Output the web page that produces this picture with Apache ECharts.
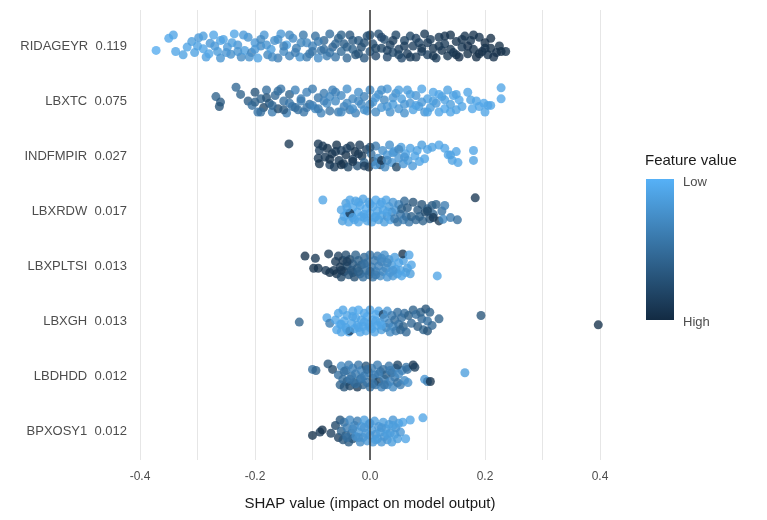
<!DOCTYPE html>
<html>
<head>
<meta charset="utf-8">
<script src="https://cdn.jsdelivr.net/npm/echarts@6.0.0/dist/echarts.min.js"></script>
<style>
  html, body { margin: 0; padding: 0; background: #fff; }
  #main { width: 767px; height: 520px; }
</style>
</head>
<body>
<div id="main"></div>
<script>
  // 特征名和平均|SHAP|，从上到下
  var features = ['RIDAGEYR', 'LBXTC', 'INDFMPIR', 'LBXRDW', 'LBXPLTSI', 'LBXGH', 'LBDHDD', 'BPXOSY1'];
  var meanAbs = ['0.119', '0.075', '0.027', '0.017', '0.013', '0.013', '0.012', '0.012'];
  var xTicks = [-0.4, -0.2, 0.0, 0.2, 0.4];

  // 每个点: [SHAP值, 特征值(0=低 1=高), 纵向抖动]
  var ridageyr = [
    [-0.372,0.05,0.08],[-0.35,0.08,-0.14],[-0.342,0.1,-0.2],[-0.338,0.1,0.1],[-0.325,0.12,0.16],[-0.318,0.1,0.02],
    [-0.31,0.15,-0.08],[-0.305,0.12,0.12],[-0.298,0.18,-0.15],[-0.29,0.1,0.05],[-0.285,0.14,0.2],[-0.278,0.2,-0.05],
    [-0.272,0.1,-0.2],[-0.265,0.16,0.1],[-0.26,0.22,0.22],[-0.255,0.12,-0.12],[-0.248,0.18,0.02],[-0.242,0.25,0.15],
    [-0.236,0.1,-0.22],[-0.23,0.2,-0.02],[-0.224,0.3,0.2],[-0.218,0.15,0.08],[-0.212,0.22,-0.16],[-0.206,0.35,0.12],
    [-0.2,0.18,-0.06],[-0.195,0.12,0.22],[-0.19,0.28,0.0],[-0.184,0.2,-0.2],[-0.178,0.32,0.16],[-0.172,0.15,0.06],
    [-0.166,0.25,-0.1],[-0.16,0.38,0.22],[-0.155,0.2,-0.22],[-0.15,0.3,0.1],[-0.145,0.12,-0.02],[-0.14,0.35,0.18],
    [-0.134,0.28,-0.14],[-0.128,0.4,0.04],[-0.122,0.22,0.2],[-0.116,0.42,-0.2],[-0.11,0.3,-0.06],[-0.105,0.45,0.14],
    [-0.1,0.35,0.0],[-0.095,0.5,-0.18],[-0.09,0.28,0.22],[-0.085,0.45,0.08],[-0.08,0.55,-0.1],[-0.075,0.4,0.18],
    [-0.07,0.5,-0.22],[-0.065,0.58,0.02],[-0.06,0.45,0.2],[-0.055,0.6,-0.14],[-0.05,0.52,0.1],[-0.045,0.62,-0.04],
    [-0.04,0.55,0.22],[-0.035,0.68,-0.2],[-0.03,0.6,0.06],[-0.025,0.7,0.16],[-0.02,0.65,-0.1],[-0.015,0.72,0.02],
    [-0.01,0.68,0.22],[-0.005,0.75,-0.18],[0.0,0.7,0.1],[0.005,0.74,-0.04],[0.01,0.78,0.18],[0.015,0.72,-0.22],
    [0.02,0.8,0.04],[0.025,0.75,-0.12],[0.03,0.78,0.2],[0.035,0.82,-0.02],[0.04,0.76,0.12],[0.045,0.8,-0.2],
    [0.05,0.84,0.06],[0.055,0.78,0.22],[0.06,0.82,-0.1],[0.065,0.86,0.14],[0.07,0.8,-0.18],[0.075,0.85,0.0],
    [0.08,0.88,0.2],[0.085,0.82,-0.06],[0.09,0.86,0.1],[0.095,0.9,-0.22],[0.1,0.84,0.16],[0.105,0.88,-0.12],
    [0.11,0.92,0.04],[0.115,0.86,0.22],[0.12,0.9,-0.16],[0.125,0.94,0.08],[0.13,0.88,-0.04],[0.135,0.92,0.18],
    [0.14,0.95,-0.2],[0.145,0.9,0.12],[0.15,0.93,-0.08],[0.155,0.96,0.2],[0.16,0.9,0.02],[0.165,0.94,-0.18],
    [0.17,0.97,0.14],[0.175,0.92,-0.1],[0.18,0.95,0.06],[0.185,0.98,0.2],[0.19,0.93,-0.16],[0.195,0.96,0.1],
    [0.2,0.98,-0.06],[0.205,0.94,0.16],[0.21,0.97,0.04],[0.22,0.96,0.12],[0.228,0.98,0.1],[0.236,0.95,0.1],
    [-0.3,0.12,0.0],[-0.29,0.15,-0.18],[-0.28,0.1,0.14],[-0.27,0.18,0.0],[-0.26,0.12,-0.1],[-0.25,0.2,0.12],
    [-0.24,0.15,-0.06],[-0.23,0.22,0.1],[-0.22,0.18,-0.2],[-0.21,0.25,0.2],[-0.2,0.2,0.06],[-0.19,0.3,-0.12],
    [-0.18,0.22,-0.02],[-0.17,0.3,0.2],[-0.16,0.25,-0.12],[-0.15,0.35,0.0],[-0.14,0.3,-0.2],[-0.13,0.38,0.12],
    [-0.12,0.32,-0.06],[-0.11,0.4,0.2],[-0.1,0.45,0.1],[-0.09,0.4,-0.08],[-0.08,0.5,0.06],[-0.07,0.45,0.12],
    [-0.06,0.55,-0.04],[-0.05,0.6,-0.2],[-0.04,0.6,0.02],[-0.03,0.65,-0.1],[-0.02,0.7,0.14],[-0.01,0.72,-0.06],
    [0.0,0.75,-0.2],[0.01,0.8,0.04],[0.02,0.78,-0.16],[0.03,0.82,0.08],[0.04,0.85,-0.1],[0.05,0.8,0.16],
    [0.06,0.86,0.0],[0.07,0.88,0.2],[0.08,0.84,-0.14],[0.09,0.9,0.04],[0.1,0.88,-0.06],[0.11,0.92,0.18],
    [0.12,0.9,0.0],[0.13,0.94,-0.18],[0.14,0.92,0.06],[0.15,0.95,0.16],[0.16,0.93,-0.12],[0.17,0.96,0.0],
    [0.18,0.94,-0.2],[0.19,0.97,0.14],[0.2,0.95,0.04],[0.21,0.98,-0.14],[0.215,0.96,0.2],[0.225,0.97,0.0]
  ];
  var lbxtc = [
    [-0.268,0.6,-0.08],[-0.26,0.65,0.02],[-0.262,0.7,0.1],[-0.233,0.55,-0.25],[-0.225,0.6,-0.12],[-0.212,0.65,0.0],
    [-0.205,0.5,0.08],[-0.2,0.7,-0.16],[-0.195,0.45,0.2],[-0.19,0.6,-0.04],[-0.185,0.8,0.12],[-0.18,0.5,-0.2],
    [-0.175,0.65,0.04],[-0.17,0.4,0.2],[-0.165,0.55,-0.1],[-0.16,0.75,0.14],[-0.155,0.45,-0.22],[-0.15,0.5,0.0],
    [-0.145,0.4,0.22],[-0.14,0.6,-0.12],[-0.135,0.45,0.1],[-0.13,0.35,-0.2],[-0.125,0.5,0.16],[-0.12,0.4,-0.04],
    [-0.115,0.45,0.2],[-0.11,0.35,-0.16],[-0.105,0.5,0.06],[-0.1,0.4,-0.22],[-0.095,0.3,0.14],[-0.09,0.45,-0.06],
    [-0.085,0.35,0.22],[-0.08,0.4,-0.14],[-0.075,0.3,0.04],[-0.07,0.45,0.18],[-0.065,0.35,-0.2],[-0.06,0.3,0.0],
    [-0.055,0.4,0.2],[-0.05,0.3,-0.1],[-0.045,0.35,0.1],[-0.04,0.25,-0.22],[-0.035,0.4,0.16],[-0.03,0.3,-0.04],
    [-0.025,0.35,0.22],[-0.02,0.25,-0.16],[-0.015,0.3,0.06],[-0.01,0.35,-0.08],[-0.005,0.25,0.18],[0.0,0.3,-0.2],
    [0.005,0.2,0.02],[0.01,0.3,0.2],[0.015,0.25,-0.12],[0.02,0.2,0.12],[0.025,0.3,-0.02],[0.03,0.2,-0.22],
    [0.035,0.25,0.2],[0.04,0.15,0.06],[0.045,0.25,-0.14],[0.05,0.2,0.14],[0.055,0.15,-0.04],[0.06,0.25,0.22],
    [0.065,0.15,-0.2],[0.07,0.2,0.04],[0.075,0.12,0.16],[0.08,0.2,-0.1],[0.085,0.15,0.1],[0.09,0.1,-0.22],
    [0.095,0.2,0.2],[0.1,0.12,-0.04],[0.105,0.15,0.12],[0.11,0.1,-0.16],[0.115,0.18,0.04],[0.12,0.1,0.2],
    [0.125,0.15,-0.08],[0.13,0.08,0.14],[0.135,0.12,-0.2],[0.14,0.15,0.06],[0.145,0.1,-0.1],[0.15,0.12,0.16],
    [0.155,0.08,-0.02],[0.16,0.1,0.1],[0.17,0.1,-0.16],[0.175,0.12,-0.02],[0.178,0.08,0.14],[0.185,0.1,0.0],
    [0.19,0.1,0.1],[0.198,0.08,0.04],[0.205,0.1,0.08],[0.2,0.1,0.2],[0.21,0.1,0.08],[0.228,0.1,-0.24],[0.228,0.08,-0.04],
    [-0.2,0.6,0.02],[-0.19,0.5,0.2],[-0.18,0.7,-0.06],[-0.17,0.55,0.08],[-0.16,0.5,-0.18],[-0.15,0.65,0.16],
    [-0.14,0.45,0.04],[-0.13,0.5,0.12],[-0.12,0.4,0.0],[-0.11,0.45,0.12],[-0.1,0.35,0.08],[-0.09,0.4,0.14],
    [-0.08,0.35,0.0],[-0.07,0.3,-0.08],[-0.06,0.35,-0.16],[-0.05,0.3,0.2],[-0.04,0.3,0.04],[-0.03,0.25,0.14],
    [-0.02,0.3,0.0],[-0.01,0.25,0.16],[0.0,0.3,0.06],[0.01,0.2,-0.06],[0.02,0.25,-0.2],[0.03,0.2,0.1],
    [0.04,0.2,-0.06],[0.05,0.15,-0.2],[0.06,0.2,0.06],[0.07,0.15,-0.12],[0.08,0.12,0.08],[0.09,0.18,0.02],
    [0.1,0.12,0.2],[0.11,0.15,0.0],[0.12,0.1,-0.12],[0.13,0.12,-0.02],[0.14,0.1,0.2],[0.15,0.12,-0.12]
  ];
  var indfmpir = [
    [-0.141,0.9,-0.22],[-0.09,0.9,-0.22],[-0.088,0.85,-0.1],[-0.09,0.9,0.04],[-0.088,0.95,0.14],[-0.082,0.9,-0.18],
    [-0.078,0.9,0.02],[-0.074,0.95,-0.14],[-0.07,0.85,0.16],[-0.066,0.92,-0.04],[-0.062,0.88,0.2],[-0.058,0.95,-0.2],
    [-0.054,0.9,0.08],[-0.05,0.85,-0.1],[-0.046,0.92,0.14],[-0.042,0.95,-0.02],[-0.038,0.8,0.2],[-0.034,0.9,-0.18],
    [-0.03,0.85,0.06],[-0.026,0.95,-0.08],[-0.022,0.7,0.18],[-0.018,0.88,-0.2],[-0.014,0.9,0.0],[-0.01,0.6,0.12],
    [-0.006,0.85,-0.12],[-0.002,0.9,0.2],[0.002,0.5,-0.04],[0.006,0.8,0.1],[0.01,0.4,-0.18],[0.014,0.3,0.04],
    [0.018,0.85,0.16],[0.022,0.25,-0.1],[0.026,0.3,0.2],[0.03,0.2,-0.02],[0.034,0.25,-0.2],[0.038,0.2,0.12],
    [0.042,0.15,-0.08],[0.046,0.8,0.2],[0.05,0.2,0.04],[0.054,0.15,-0.16],[0.058,0.2,0.14],[0.062,0.1,-0.04],
    [0.066,0.15,0.08],[0.07,0.12,-0.14],[0.074,0.18,0.18],[0.078,0.1,0.0],[0.082,0.12,-0.1],[0.086,0.1,0.1],
    [-0.07,0.95,0.06],[-0.06,0.9,-0.08],[-0.05,0.95,0.16],[-0.04,0.85,-0.14],[-0.03,0.92,0.1],[-0.02,0.9,-0.04],
    [-0.01,0.85,0.18],[0.0,0.7,-0.16],[0.01,0.2,0.16],[0.02,0.9,0.08],[0.03,0.3,0.08],[0.04,0.2,-0.06],
    [0.05,0.3,-0.12],[0.06,0.2,0.02],[0.1,0.1,-0.12],[0.108,0.12,-0.16],[0.12,0.1,-0.2],[0.13,0.1,-0.14],
    [0.14,0.15,-0.02],[0.136,0.1,-0.02],[0.15,0.1,-0.08],[0.143,0.12,0.08],[0.153,0.1,0.12],[0.18,0.1,-0.1],
    [0.18,0.12,0.08],[0.095,0.1,0.05],[0.09,0.15,-0.2]
  ];
  var lbxrdw = [
    [-0.082,0.1,-0.2],[-0.05,0.1,-0.02],[-0.048,0.15,0.18],[-0.045,0.1,0.1],[-0.042,0.15,-0.14],[-0.04,0.05,0.04],
    [-0.037,0.1,0.2],[-0.035,0.1,-0.2],[-0.032,0.12,0.08],[-0.03,0.08,-0.06],[-0.027,0.1,0.16],[-0.025,0.12,-0.18],
    [-0.022,0.06,0.02],[-0.02,0.1,0.2],[-0.017,0.1,-0.1],[-0.015,0.08,0.1],[-0.012,0.12,-0.22],[-0.01,0.1,0.06],
    [-0.007,0.06,-0.04],[-0.005,0.1,0.18],[-0.002,0.12,-0.16],[0.0,0.08,0.04],[0.003,0.1,0.2],[0.005,0.1,-0.08],
    [0.008,0.12,0.12],[0.01,0.08,-0.2],[0.013,0.1,0.0],[0.015,0.15,0.16],[0.018,0.1,-0.12],[0.02,0.12,0.08],
    [0.023,0.1,-0.02],[0.025,0.15,0.2],[0.028,0.1,-0.2],[0.03,0.2,0.1],[0.033,0.15,-0.08],[0.035,0.1,0.16],
    [0.038,0.3,0.02],[0.04,0.2,-0.16],[0.043,0.4,0.14],[0.045,0.2,-0.02],[0.048,0.5,0.2],[0.05,0.3,-0.12],
    [0.053,0.45,0.06],[0.055,0.6,-0.04],[0.058,0.4,0.16],[0.06,0.55,-0.18],[0.063,0.5,0.1],[0.065,0.65,-0.06],
    [0.068,0.45,0.2],[-0.035,0.9,0.04],
    [-0.04,0.1,-0.06],[-0.03,0.1,0.12],[-0.02,0.1,-0.16],[-0.01,0.1,0.12],[0.0,0.1,-0.12],[0.01,0.1,0.1],
    [0.02,0.1,-0.16],[0.03,0.1,0.02],
    [0.072,0.6,0.1],[0.075,0.7,-0.16],[0.08,0.55,0.16],[0.083,0.65,-0.02],[0.086,0.6,0.1],[0.09,0.7,-0.12],
    [0.092,0.6,0.18],[0.096,0.75,0.02],[0.1,0.6,-0.04],[0.104,0.7,0.14],[0.108,0.65,-0.1],[0.11,0.6,0.06],
    [0.1,0.8,0.0],[0.11,0.9,0.12],[0.115,0.6,-0.12],[0.12,0.9,0.18],[0.125,0.5,0.0],[0.13,0.4,-0.1],
    [0.127,0.3,0.15],[0.14,0.4,0.12],[0.152,0.5,0.16],[0.183,0.9,-0.24]
  ];
  var lbxpltsi = [
    [-0.113,0.95,-0.18],[-0.095,0.9,-0.14],[-0.072,0.9,-0.22],[-0.098,0.95,0.04],[-0.09,0.95,0.04],[-0.077,0.9,0.08],
    [-0.07,0.95,0.12],[-0.063,0.9,0.08],
    [-0.06,0.9,-0.08],[-0.058,0.95,0.14],[-0.055,0.85,-0.18],[-0.052,0.9,0.02],[-0.05,0.8,0.2],[-0.047,0.9,-0.1],
    [-0.045,0.85,0.1],[-0.042,0.75,-0.2],[-0.04,0.8,0.0],[-0.037,0.7,0.16],[-0.035,0.8,-0.12],[-0.032,0.7,0.08],
    [-0.03,0.65,-0.04],[-0.027,0.75,0.2],[-0.025,0.6,-0.2],[-0.022,0.65,0.04],[-0.02,0.6,-0.1],[-0.017,0.55,0.14],
    [-0.015,0.6,-0.02],[-0.012,0.5,0.2],[-0.01,0.55,-0.16],[-0.007,0.5,0.08],[-0.005,0.45,-0.06],[-0.002,0.5,0.16],
    [0.0,0.45,-0.2],[0.003,0.4,0.02],[0.005,0.45,0.2],[0.008,0.4,-0.1],[0.01,0.35,0.1],[0.013,0.4,-0.18],
    [0.015,0.35,0.0],[0.018,0.3,0.18],[0.02,0.35,-0.08],[0.023,0.3,0.1],[0.025,0.25,-0.2],[0.028,0.3,0.04],
    [0.03,0.2,0.2],[0.033,0.25,-0.12],[0.035,0.2,0.12],[0.038,0.15,-0.02],[0.04,0.2,0.18],[0.043,0.15,-0.16],
    [0.045,0.1,0.06],[0.048,0.15,0.14],[0.05,0.1,-0.06],[0.053,0.12,0.08],[0.055,0.1,0.18],[0.058,0.12,-0.1],
    [0.062,0.1,0.12],[0.065,0.15,0.04],
    [-0.05,0.9,0.08],[-0.04,0.85,-0.08],[-0.03,0.7,0.12],[-0.02,0.6,0.1],[-0.01,0.5,-0.04],[0.0,0.5,0.1],
    [0.01,0.4,0.16],[0.02,0.3,-0.14],[0.03,0.3,-0.06],[0.04,0.2,0.08],
    [0.057,0.95,-0.22],[0.068,0.1,-0.2],[0.072,0.1,-0.02],[0.07,0.15,0.14],[0.117,0.1,0.18]
  ];
  var lbxgh = [
    [-0.123,0.6,0.02],[-0.075,0.1,-0.06],[-0.07,0.4,0.04],
    [-0.06,0.1,-0.02],[-0.058,0.1,0.16],[-0.055,0.1,-0.14],[-0.052,0.05,0.06],[-0.05,0.1,0.2],[-0.047,0.1,-0.2],
    [-0.045,0.08,0.0],[-0.042,0.1,0.12],[-0.04,0.1,-0.1],[-0.037,0.06,0.2],[-0.035,0.85,0.18],[-0.032,0.1,0.04],
    [-0.03,0.1,-0.18],[-0.027,0.08,0.14],[-0.025,0.1,-0.06],[-0.022,0.1,0.08],[-0.02,0.06,-0.2],[-0.017,0.1,0.2],
    [-0.015,0.1,-0.02],[-0.012,0.08,0.1],[-0.01,0.1,-0.14],[-0.007,0.1,0.18],[-0.005,0.06,-0.08],[-0.002,0.1,0.06],
    [0.0,0.1,-0.2],[0.003,0.08,0.14],[0.005,0.1,-0.02],[0.008,0.1,0.2],[0.01,0.06,-0.12],[0.013,0.1,0.08],
    [0.015,0.1,-0.18],[0.018,0.12,0.02],[0.02,0.15,0.16],[0.023,0.85,-0.12],[0.025,0.2,-0.06],[0.028,0.3,0.12],
    [0.03,0.2,-0.18],[0.033,0.35,0.04],[0.035,0.3,0.2],[0.038,0.4,-0.1],[0.04,0.3,0.1],[0.043,0.5,-0.02],
    [0.045,0.4,0.18],[0.048,0.5,-0.16],[0.05,0.45,0.06],[0.053,0.55,0.16],[0.055,0.5,-0.06],[0.058,0.6,0.1],
    [0.06,0.5,-0.14],[0.063,0.55,0.2],
    [-0.05,0.1,0.06],[-0.04,0.1,0.16],[-0.03,0.1,-0.08],[-0.02,0.1,0.12],[-0.01,0.1,0.02],[0.0,0.1,0.12],
    [0.01,0.1,0.0],[0.02,0.1,0.08],
    [0.067,0.6,-0.1],[0.072,0.55,0.04],[0.075,0.6,-0.2],[0.08,0.5,-0.12],[0.083,0.65,0.1],[0.088,0.6,-0.16],
    [0.09,0.55,-0.04],[0.093,0.6,0.16],[0.097,0.7,-0.22],[0.1,0.5,0.0],[0.1,0.7,0.18],[0.104,0.6,-0.16],
    [0.108,0.55,0.08],[0.12,0.6,-0.04],[0.193,0.7,-0.1],[0.397,0.95,0.07]
  ];
  var lbdhdd = [
    [-0.1,0.5,-0.12],[-0.094,0.6,-0.1],[-0.073,0.7,-0.22],[-0.065,0.8,-0.12],
    [-0.055,0.5,-0.02],[-0.052,0.6,0.16],[-0.05,0.3,-0.18],[-0.047,0.5,0.06],[-0.045,0.7,0.2],[-0.042,0.4,-0.1],
    [-0.04,0.6,0.1],[-0.037,0.4,-0.2],[-0.035,0.8,0.18],[-0.032,0.5,0.0],[-0.03,0.35,-0.14],[-0.027,0.55,0.12],
    [-0.025,0.4,-0.04],[-0.022,0.9,0.2],[-0.02,0.45,-0.2],[-0.017,0.5,0.06],[-0.015,0.35,-0.1],[-0.012,0.6,0.16],
    [-0.01,0.4,0.0],[-0.007,0.7,-0.18],[-0.005,0.45,0.12],[-0.002,0.35,-0.06],[0.0,0.5,0.2],[0.003,0.4,-0.14],
    [0.005,0.6,0.04],[0.008,0.35,-0.02],[0.01,0.5,0.16],[0.013,0.4,-0.2],[0.015,0.8,0.1],[0.018,0.45,-0.08],
    [0.02,0.35,0.2],[0.023,0.5,-0.12],[0.025,0.4,0.06],[0.028,0.6,-0.02],[0.03,0.3,0.16],[0.033,0.45,-0.18],
    [0.035,0.35,0.1],[0.038,0.55,-0.06],[0.04,0.3,0.2],[0.043,0.4,0.02],[0.045,0.35,-0.14],[0.048,0.5,0.12],
    [0.05,0.3,-0.04],[0.053,0.4,0.16],[0.056,0.35,-0.1],[0.06,0.3,0.08],[0.063,0.45,-0.16],[0.066,0.25,0.12],
    [-0.045,0.5,-0.08],[-0.035,0.45,0.06],[-0.025,0.5,0.14],[-0.015,0.4,0.04],[-0.005,0.5,-0.12],[0.005,0.45,0.14],
    [0.015,0.4,-0.04],[0.025,0.45,0.16],[0.035,0.4,-0.1],
    [0.048,0.8,-0.2],[0.065,0.5,-0.12],[0.075,0.9,-0.2],[0.078,0.85,-0.16],[0.095,0.2,0.06],[0.1,0.4,0.1],
    [0.105,0.95,0.1],[0.165,0.15,-0.06]
  ];
  var bpxosy1 = [
    [-0.1,0.95,0.08],[-0.087,0.9,0.02],[-0.083,0.95,-0.02],[-0.068,0.85,0.04],[-0.06,0.8,-0.1],[-0.055,0.85,0.12],
    [-0.052,0.7,-0.2],
    [-0.05,0.6,0.0],[-0.047,0.7,0.16],[-0.045,0.5,-0.16],[-0.042,0.6,0.08],[-0.04,0.4,-0.06],[-0.037,0.65,0.2],
    [-0.035,0.3,-0.2],[-0.032,0.5,0.04],[-0.03,0.7,0.14],[-0.027,0.3,-0.1],[-0.025,0.25,0.1],[-0.022,0.4,-0.18],
    [-0.02,0.2,0.02],[-0.017,0.3,0.2],[-0.015,0.2,-0.08],[-0.012,0.25,0.12],[-0.01,0.15,-0.2],[-0.007,0.2,0.04],
    [-0.005,0.2,0.18],[-0.002,0.15,-0.12],[0.0,0.2,0.08],[0.003,0.15,-0.02],[0.005,0.2,0.2],[0.008,0.15,-0.18],
    [0.01,0.2,0.06],[0.013,0.15,0.14],[0.015,0.2,-0.08],[0.018,0.15,0.02],[0.02,0.2,0.2],[0.023,0.15,-0.16],
    [0.025,0.2,0.1],[0.028,0.15,-0.04],[0.03,0.2,0.16],[0.033,0.15,-0.12],[0.035,0.2,0.04],[0.038,0.15,0.2],
    [0.04,0.2,-0.2],[0.043,0.15,0.06],[0.045,0.2,-0.06],[0.048,0.15,0.14],[0.05,0.15,-0.14],[0.053,0.2,0.02],
    [-0.04,0.5,0.12],[-0.03,0.3,-0.04],[-0.02,0.25,0.12],[-0.01,0.2,-0.06],[0.0,0.2,-0.14],[0.01,0.15,0.16],
    [0.02,0.2,-0.06],[0.03,0.15,0.06],[0.04,0.15,-0.1],
    [0.057,0.1,-0.16],[0.062,0.1,0.14],[0.07,0.1,-0.2],[0.092,0.1,-0.24]
  ];

  var rows = [ridageyr, lbxtc, indfmpir, lbxrdw, lbxpltsi, lbxgh, lbdhdd, bpxosy1];

  var myChart = echarts.init(document.getElementById('main'));
  var font = "'Liberation Sans', Arial, sans-serif";

  // 组装散点: x=SHAP, y=行号+抖动, 第三维=特征值(给visualMap上色)
  var points = [];
  rows.forEach(function (arr, i) {
    arr.forEach(function (p) {
      points.push([p[0], i + p[2], p[1]]);
    });
  });

  var option = {
    backgroundColor: '#fff',
    animation: false,
    textStyle: { fontFamily: font },
    grid: { left: 140, right: 167, top: 10, bottom: 60 },
    xAxis: {
      type: 'value',
      min: xTicks[0],
      max: xTicks[xTicks.length - 1],
      interval: 0.2,
      name: 'SHAP value (impact on model output)',
      nameLocation: 'middle',
      nameGap: 36,
      nameTextStyle: { fontSize: 15, color: '#1a1a1a', fontFamily: font },
      axisLine: { show: false },
      axisTick: { show: false },
      axisLabel: {
        color: '#4d4d4d', fontSize: 12, margin: 11, fontFamily: font,
        formatter: function (v) { return v.toFixed(1); }
      },
      splitLine: { lineStyle: { color: '#e6e6e6', width: 1 } },
      minorTick: { show: false, splitNumber: 2 },
      minorSplitLine: { show: true, lineStyle: { color: '#e6e6e6', width: 1 } }
    },
    yAxis: {
      type: 'value',
      inverse: true,
      min: -0.655,
      max: 7.527,
      axisLine: { show: false },
      axisTick: { show: false },
      splitLine: { show: false },
      axisLabel: {
        customValues: [0, 1, 2, 3, 4, 5, 6, 7],
        color: '#4d4d4d', fontSize: 13, margin: 13, fontFamily: font,
        formatter: function (v) {
          var i = Math.round(v);
          return features[i] + '  ' + meanAbs[i];
        }
      }
    },
    visualMap: {
      show: false,
      type: 'continuous',
      dimension: 2,
      min: 0,
      max: 1,
      inRange: { color: ['#56B1F7', '#132B43'] }
    },
    graphic: [
      { type: 'text', left: 645, top: 153, style: { text: 'Feature value', fontSize: 15, fill: '#1a1a1a', fontFamily: font } },
      {
        type: 'rect', left: 646, top: 179,
        shape: { width: 28, height: 141 },
        style: {
          fill: new echarts.graphic.LinearGradient(0, 0, 0, 1, [
            { offset: 0, color: '#56B1F7' },
            { offset: 1, color: '#132B43' }
          ])
        }
      },
      { type: 'text', left: 683, top: 176, style: { text: 'Low', fontSize: 13, fill: '#4d4d4d', fontFamily: font } },
      { type: 'text', left: 683, top: 316, style: { text: 'High', fontSize: 13, fill: '#4d4d4d', fontFamily: font } }
    ],
    series: [{
      type: 'scatter',
      data: points,
      symbolSize: 9,
      itemStyle: { opacity: 0.78 },
      silent: true,
      markLine: {
        silent: true,
        symbol: 'none',
        label: { show: false },
        lineStyle: { color: '#333', width: 1.5, type: 'solid' },
        data: [{ xAxis: 0 }]
      }
    }]
  };

  myChart.setOption(option);
</script>
</body>
</html>
